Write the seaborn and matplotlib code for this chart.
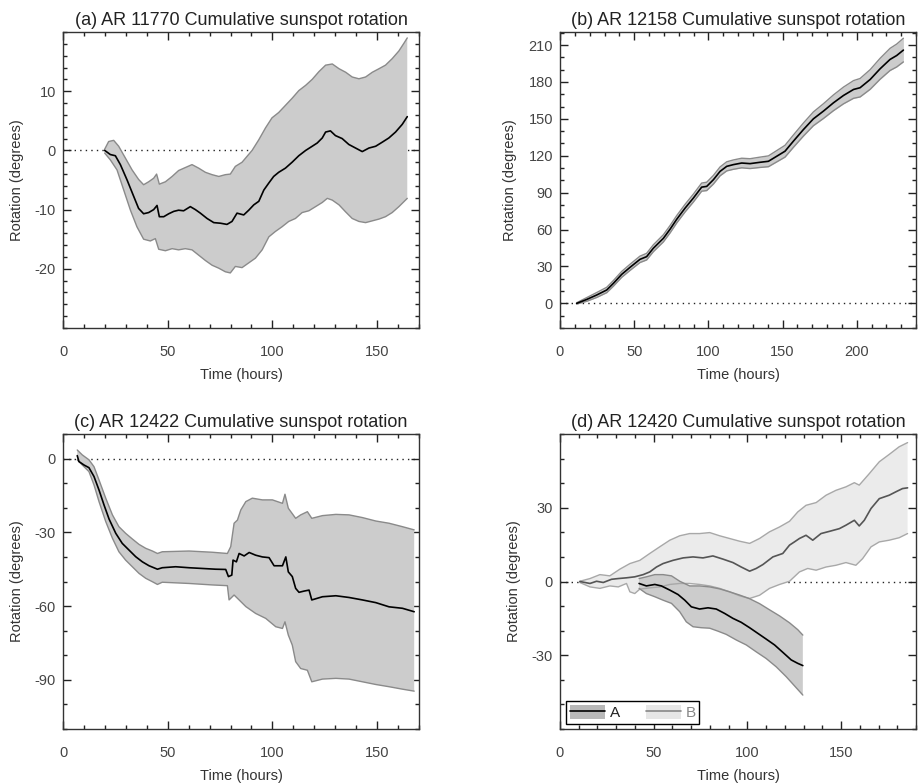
import numpy as np
import pandas as pd
import matplotlib
matplotlib.use("Agg")
import matplotlib.pyplot as plt
from matplotlib.patches import Patch
from matplotlib.lines import Line2D
from matplotlib.ticker import MultipleLocator, FixedLocator
import seaborn as sns

# ---------------- AR 11770 ----------------
a_mean_t = [19.9, 22.6, 25.0, 27.4, 30.6, 33.8, 36.1, 38.5, 40.9, 43.3, 44.9, 46.0, 48.1, 50.5, 52.9,
            55.2, 57.6, 60.8, 63.2, 65.6, 68.8, 72.0, 75.2, 78.3, 80.7, 83.1, 86.3, 88.7, 91.1, 93.5,
            95.9, 98.3, 100.6, 103.0, 106.2, 109.4, 112.6, 115.9, 119.0, 121.4, 123.8, 125.4, 127.7,
            130.1, 133.3, 136.5, 139.7, 142.9, 146.1, 149.3, 152.5, 155.6, 158.8, 162.0, 164.4]
a_mean_v = [0.0, -0.7, -0.9, -2.4, -5.0, -7.8, -9.8, -10.7, -10.5, -10.0, -9.3, -11.2, -11.2, -10.7, -10.3,
            -10.1, -10.2, -9.5, -10.0, -10.6, -11.5, -12.2, -12.3, -12.5, -12.0, -10.6, -10.9, -10.1, -9.2, -8.6,
            -6.7, -5.5, -4.4, -3.7, -3.0, -2.0, -0.9, 0.0, 0.7, 1.25, 2.1, 3.1, 3.3,
            2.5, 2.0, 1.0, 0.4, -0.2, 0.4, 0.7, 1.4, 2.1, 3.1, 4.4, 5.7]
a_hi_t = [19.9, 21.8, 24.2, 26.6, 29.8, 33.0, 36.1, 38.5, 40.9, 43.3, 44.7, 46.0, 48.9, 52.1, 55.2,
          58.4, 61.6, 64.8, 68.0, 71.2, 74.4, 77.5, 79.9, 82.3, 85.5, 87.9, 90.3, 93.5, 96.7, 99.8,
          103.0, 106.2, 109.4, 112.6, 115.9, 119.0, 122.2, 125.4, 128.6, 131.8, 135.0, 138.1, 141.3,
          144.5, 147.7, 150.9, 154.0, 157.2, 160.4, 162.8, 164.4]
a_hi_v = [0.2, 1.5, 1.7, 0.7, -1.3, -3.3, -4.9, -5.8, -5.3, -4.7, -4.0, -5.7, -5.3, -4.4, -3.4,
          -2.9, -2.4, -3.0, -3.7, -4.1, -4.4, -4.1, -4.0, -2.7, -2.0, -1.0, 0.0, 1.8, 3.8, 5.5,
          6.4, 7.6, 8.8, 10.1, 11.0, 12.0, 13.3, 14.4, 14.6, 13.8, 13.2, 12.4, 12.1,
          12.4, 13.2, 13.8, 14.4, 15.5, 16.8, 18.1, 19.0]
a_lo_t = [19.9, 22.6, 25.8, 29.0, 32.2, 35.3, 38.5, 41.7, 44.1, 45.7, 48.9, 52.1, 55.2, 58.4, 61.6,
          64.8, 68.0, 71.2, 74.4, 77.5, 79.9, 82.3, 85.5, 88.7, 91.9, 95.1, 98.3, 101.4, 104.6, 107.8,
          111.0, 114.2, 117.4, 120.6, 123.8, 126.2, 128.6, 131.8, 135.0, 138.1, 141.3, 144.5, 147.7,
          150.9, 154.0, 157.2, 160.4, 164.4]
a_lo_v = [-0.45, -1.6, -3.3, -6.7, -10.1, -12.9, -15.0, -15.3, -14.9, -16.7, -16.95, -16.6, -16.8, -16.6, -16.8,
          -17.7, -18.6, -19.4, -19.9, -20.5, -20.7, -19.6, -19.8, -19.0, -18.2, -16.8, -14.6, -13.7, -12.9, -12.0,
          -11.5, -10.5, -10.2, -9.5, -8.8, -8.1, -8.4, -9.2, -10.4, -11.5, -12.0, -12.2, -11.9,
          -11.6, -11.2, -10.5, -9.5, -8.1]

# ---------------- AR 12158 ----------------
b_t = [11.2, 18.0, 24.7, 31.5, 36.0, 41.6, 47.2, 53.9, 58.4, 62.9, 69.7, 74.2, 78.7, 84.3, 89.9,
       95.5, 98.9, 103.4, 107.9, 112.4, 116.9, 122.5, 128.1, 134.9, 140.5, 146.1, 151.7, 157.3,
       164.1, 170.8, 177.6, 184.3, 191.1, 197.9, 202.3, 209.1, 215.8, 222.5, 227.0, 231.5]
b_mean = [0.0, 3.2, 6.8, 10.9, 16.3, 23.6, 29.3, 35.8, 38.0, 44.8, 52.9, 60.3, 68.4, 77.4, 85.6,
          94.5, 95.1, 100.5, 107.3, 111.4, 112.8, 114.1, 113.6, 114.7, 115.5, 119.6, 123.7, 131.8,
          141.3, 150.0, 156.3, 163.0, 169.0, 173.9, 175.3, 182.0, 190.7, 198.3, 201.5, 205.9]
b_hi = [0.5, 4.7, 8.8, 13.1, 18.6, 26.0, 31.8, 38.4, 40.7, 47.6, 55.8, 63.3, 71.4, 80.5, 88.8,
        97.8, 98.5, 104.0, 110.9, 115.1, 116.6, 118.0, 117.6, 118.9, 119.9, 124.2, 128.5, 136.8,
        146.6, 155.6, 162.3, 169.4, 175.8, 181.1, 182.8, 190.0, 199.2, 207.3, 210.8, 215.5]
b_lo = [-0.5, 1.7, 4.8, 8.7, 14.0, 21.2, 26.8, 33.2, 35.3, 42.0, 50.0, 57.3, 65.4, 74.3, 82.4,
        91.2, 91.7, 97.0, 103.7, 107.7, 109.0, 110.2, 109.6, 110.5, 111.1, 115.0, 118.9, 126.8,
        136.0, 144.4, 150.3, 156.6, 162.2, 166.7, 167.8, 174.0, 182.2, 189.3, 192.2, 196.3]

# ---------------- AR 12422 ----------------
c_mean_t = [6.8, 7.6, 10.0, 12.4, 14.8, 17.2, 19.6, 22.0, 25.2, 28.3, 31.5, 34.7, 37.9, 41.1, 45.1,
            47.4, 53.8, 60.2, 66.6, 72.9, 77.7, 79.0, 80.6, 81.2, 82.8, 84.1, 86.5, 88.9, 92.0, 95.2,
            98.4, 100.8, 104.8, 106.4, 107.6, 109.5, 111.1, 112.7, 115.1, 117.5, 118.8, 123.9, 130.3,
            136.6, 143.0, 149.4, 155.7, 162.1, 167.7]
c_mean_v = [1.2, -1.2, -2.6, -3.7, -7.3, -12.8, -18.9, -24.6, -30.4, -34.5, -37.2, -39.9, -42.0, -43.6, -45.0,
            -44.4, -44.0, -44.4, -44.7, -45.0, -45.1, -48.0, -47.4, -41.3, -42.0, -38.6, -39.6, -38.2, -39.3, -40.0,
            -40.3, -43.6, -43.6, -40.0, -46.1, -48.0, -52.8, -54.4, -53.9, -53.5, -57.5, -56.2, -55.8,
            -56.5, -57.5, -58.6, -60.3, -60.9, -62.3]
c_hi_t = [6.8, 9.2, 12.4, 14.8, 17.2, 20.4, 23.6, 26.7, 29.9, 33.1, 36.3, 39.5, 42.7, 45.1, 47.4,
          60.2, 71.3, 78.5, 80.1, 81.7, 83.3, 84.9, 87.3, 90.4, 95.2, 100.0, 104.8, 106.0, 107.6,
          111.1, 113.5, 116.7, 118.8, 123.9, 130.3, 136.6, 143.0, 149.4, 155.7, 162.1, 167.7]
c_hi_v = [3.5, 1.5, -0.5, -3.3, -8.7, -16.1, -22.9, -27.7, -30.4, -32.7, -34.9, -36.5, -37.6, -38.6, -37.9,
          -37.6, -38.1, -38.6, -35.8, -26.3, -25.0, -20.9, -17.5, -16.1, -16.8, -16.8, -18.2, -14.5, -20.2,
          -24.3, -22.9, -21.6, -24.3, -23.2, -22.7, -22.9, -24.0, -25.4, -26.3, -27.7, -29.0]
c_lo_t = [6.8, 9.2, 12.4, 14.8, 17.2, 20.4, 23.6, 26.7, 29.9, 33.1, 36.3, 39.5, 42.7, 45.1, 47.4,
          60.2, 71.3, 78.5, 79.3, 81.7, 84.1, 87.3, 92.0, 96.8, 101.6, 104.8, 106.0, 107.6, 109.5,
          111.1, 113.5, 116.7, 118.8, 123.9, 130.3, 136.6, 143.0, 149.4, 155.7, 162.1, 167.7]
c_lo_v = [-0.5, -2.6, -5.3, -10.7, -17.5, -25.6, -32.4, -37.9, -41.3, -44.0, -46.7, -48.7, -50.1, -51.2, -50.3,
          -50.8, -51.4, -51.7, -57.5, -55.5, -57.5, -60.2, -63.0, -65.0, -68.4, -69.1, -66.4, -71.8, -75.9,
          -82.6, -85.4, -86.1, -90.8, -89.7, -89.4, -89.7, -90.8, -91.9, -92.8, -93.8, -94.6]

# ---------------- AR 12420, spot B ----------------
dB_mean_t = [10.6, 16.0, 19.5, 23.1, 27.5, 31.1, 35.5, 39.9, 44.4, 47.9, 51.5, 55.0, 60.3, 65.7, 71.0,
             76.3, 81.6, 87.0, 92.3, 96.7, 101.2, 104.7, 108.3, 113.6, 118.9, 122.5, 125.1, 127.8, 131.3,
             134.9, 139.3, 143.8, 149.1, 152.6, 157.1, 159.7, 162.4, 166.0, 170.4, 175.7, 179.3, 182.8, 185.5]
dB_mean_v = [0.0, -0.8, 0.1, -0.4, 0.9, 1.2, 1.5, 1.9, 2.8, 3.9, 5.9, 7.3, 8.6, 9.6, 10.0,
             9.6, 10.4, 9.1, 7.7, 5.9, 4.2, 5.3, 6.9, 10.0, 11.4, 14.8, 16.1, 17.5, 18.8,
             16.8, 19.5, 20.4, 21.5, 22.9, 24.9, 22.6, 24.9, 29.7, 33.7, 35.1, 36.5, 37.8, 38.1]
dB_hi_t = [10.6, 16.0, 21.3, 26.6, 31.9, 37.3, 42.6, 47.9, 53.2, 58.6, 63.9, 69.2, 74.5, 79.9, 85.2,
           90.5, 95.8, 101.2, 106.5, 111.8, 117.2, 122.5, 126.9, 131.3, 136.7, 142.0, 147.3, 152.6,
           157.1, 159.7, 165.1, 170.4, 175.7, 181.0, 185.5]
dB_hi_v = [0.1, 1.2, 2.8, 2.3, 5.0, 7.3, 8.6, 11.4, 14.1, 16.8, 18.6, 19.5, 19.5, 19.9, 18.6,
           17.5, 16.4, 15.5, 17.5, 20.2, 22.2, 24.5, 28.3, 31.0, 32.1, 35.1, 37.1, 38.5,
           40.2, 39.2, 43.9, 48.7, 51.7, 54.8, 56.5]
dB_lo_t = [10.6, 16.0, 21.3, 26.6, 31.1, 35.5, 37.3, 39.9, 42.6, 47.9, 53.2, 58.6, 63.9, 69.2, 74.5,
           79.9, 85.2, 90.5, 95.8, 101.2, 106.5, 111.8, 117.2, 122.5, 127.8, 132.2, 136.7, 142.0,
           147.3, 152.6, 157.9, 161.5, 166.0, 170.4, 175.7, 181.0, 185.5]
dB_lo_v = [-0.4, -2.2, -2.8, -1.8, -2.2, -0.8, -4.2, -4.9, -3.1, -2.6, -2.2, -1.2, -0.8, -0.8, -1.2,
           -1.8, -2.8, -4.2, -5.8, -6.9, -5.6, -2.8, -1.2, 0.1, 3.9, 5.3, 4.6, 5.9,
           6.6, 7.7, 6.6, 9.3, 14.1, 16.1, 16.8, 17.8, 19.5]

# ---------------- AR 12420, spot A ----------------
dA_mean_t = [42.2, 46.1, 50.6, 54.1, 58.6, 63.0, 66.6, 70.1, 74.5, 79.0, 83.4, 87.9, 92.3, 96.7, 101.2,
             105.6, 110.0, 114.5, 118.9, 123.4, 126.9, 129.6]
dA_mean_v = [-0.8, -1.8, -1.2, -1.8, -3.5, -5.3, -7.6, -10.3, -11.2, -10.7, -11.2, -13.0, -15.0, -16.6, -18.8,
             -21.1, -23.4, -25.8, -28.8, -31.9, -33.3, -34.2]
dA_hi_t = [42.2, 46.1, 50.6, 55.0, 59.5, 63.9, 69.2, 74.5, 79.9, 85.2, 90.5, 95.8, 101.2, 106.5, 111.8,
           117.2, 122.5, 126.9, 129.6]
dA_hi_v = [1.2, 1.9, 2.8, 2.8, 2.3, 0.1, -1.8, -1.8, -2.2, -3.0, -4.2, -5.5, -7.0, -9.0, -11.5,
           -14.0, -16.8, -19.6, -21.8]
dA_lo_t = [42.2, 46.1, 50.6, 55.0, 59.5, 63.9, 67.4, 71.0, 75.4, 79.9, 84.3, 88.7, 94.1, 99.4, 104.7,
           110.0, 115.4, 120.7, 125.1, 129.6]
dA_lo_v = [-2.8, -4.9, -6.2, -7.6, -8.9, -12.3, -16.4, -18.4, -18.8, -19.0, -20.2, -21.5, -23.8, -25.8, -28.6,
           -31.3, -34.7, -38.7, -42.4, -46.2]

titles = ["(a) AR 11770 Cumulative sunspot rotation",
          "(b) AR 12158 Cumulative sunspot rotation",
          "(c) AR 12422 Cumulative sunspot rotation",
          "(d) AR 12420 Cumulative sunspot rotation"]
legend_labels = ["A", "B"]

# ---------------- styling ----------------
sns.set_style("ticks")
plt.rcParams["font.family"] = ["Liberation Sans", "DejaVu Sans"]
plt.rcParams["axes.unicode_minus"] = False
plt.rcParams["axes.edgecolor"] = "#333333"
plt.rcParams["axes.linewidth"] = 1.0
plt.rcParams["text.color"] = "#222222"
plt.rcParams["axes.labelcolor"] = "#333333"
plt.rcParams["xtick.color"] = "#222222"
plt.rcParams["ytick.color"] = "#222222"
plt.rcParams["xtick.labelcolor"] = "#444444"
plt.rcParams["ytick.labelcolor"] = "#444444"

FILL_DARK = "#cccccc"
EDGE_DARK = "#8a8a8a"
FILL_LIGHT = "#ebebeb"
EDGE_LIGHT = "#a8a8a8"
MEAN_B = "#555555"

fig = plt.figure(figsize=(9.19, 7.83), dpi=100)
W, H = 919.0, 783.0
boxes = [(63, 32, 419, 328), (560, 32, 916, 328),
         (63, 434, 419, 729), (560, 434, 916, 729)]
axes = [fig.add_axes([l / W, 1 - b / H, (r - l) / W, (b - t) / H]) for (l, t, r, b) in boxes]


def band(ax, t_hi, v_hi, t_lo, v_lo, fill, z=1):
    poly_t = np.concatenate([t_hi, t_lo[::-1]])
    poly_v = np.concatenate([v_hi, v_lo[::-1]])
    ax.fill(poly_t, poly_v, color=fill, lw=0, zorder=z)


def line(ax, t, v, color, lw, z):
    sns.lineplot(x=t, y=v, ax=ax, color=color, lw=lw, estimator=None, sort=False, zorder=z)


def zero_line(ax, xmax):
    ax.plot([0, xmax], [0, 0], ls=(0, (1, 3)), color="#222222", lw=1.0, zorder=0.5)


def style_axes(ax, xlim, ylim, yticks, yminor, title):
    ax.set_xlim(*xlim)
    ax.set_ylim(*ylim)
    ax.xaxis.set_major_locator(MultipleLocator(50))
    ax.xaxis.set_minor_locator(MultipleLocator(10))
    ax.yaxis.set_major_locator(FixedLocator(yticks))
    ax.yaxis.set_minor_locator(MultipleLocator(yminor))
    ax.tick_params(which="both", direction="in", top=True, right=True, width=1.0)
    ax.tick_params(which="major", length=6)
    ax.tick_params(which="minor", length=3)
    ax.tick_params(axis="x", which="major", pad=12, labelsize=10.5)
    ax.tick_params(axis="y", which="major", pad=5, labelsize=10.5)
    ax.set_xlabel("Time (hours)", fontsize=10.5, labelpad=7)
    ax.set_ylabel("Rotation (degrees)", fontsize=10.5, labelpad=8)
    ax.set_title(title, fontsize=13, pad=5, color="#222222")
    for s in ax.spines.values():
        s.set_visible(True)


# (a)
ax = axes[0]
zero_line(ax, 170)
band(ax, np.array(a_hi_t), np.array(a_hi_v), np.array(a_lo_t), np.array(a_lo_v), FILL_DARK)
line(ax, a_hi_t, a_hi_v, EDGE_DARK, 1.0, 2)
line(ax, a_lo_t, a_lo_v, EDGE_DARK, 1.0, 2)
line(ax, a_mean_t, a_mean_v, "black", 1.2, 3)
style_axes(ax, (0, 170), (-30, 20), [-20, -10, 0, 10], 2, titles[0])

# (b)
ax = axes[1]
zero_line(ax, 240)
ax.fill_between(b_t, b_lo, b_hi, color=FILL_DARK, lw=0, zorder=1)
line(ax, b_t, b_hi, EDGE_DARK, 1.0, 2)
line(ax, b_t, b_lo, EDGE_DARK, 1.0, 2)
line(ax, b_t, b_mean, "black", 1.2, 3)
style_axes(ax, (0, 240), (-20, 220.6), list(range(0, 211, 30)), 10, titles[1])

# (c)
ax = axes[2]
zero_line(ax, 170)
band(ax, np.array(c_hi_t), np.array(c_hi_v), np.array(c_lo_t), np.array(c_lo_v), FILL_DARK)
line(ax, c_hi_t, c_hi_v, EDGE_DARK, 1.0, 2)
line(ax, c_lo_t, c_lo_v, EDGE_DARK, 1.0, 2)
line(ax, c_mean_t, c_mean_v, "black", 1.2, 3)
style_axes(ax, (0, 170), (-110, 10), [-90, -60, -30, 0], 10, titles[2])

# (d)
ax = axes[3]
zero_line(ax, 190)
band(ax, np.array(dB_hi_t), np.array(dB_hi_v), np.array(dB_lo_t), np.array(dB_lo_v), FILL_LIGHT, z=1)
band(ax, np.array(dA_hi_t), np.array(dA_hi_v), np.array(dA_lo_t), np.array(dA_lo_v), FILL_DARK, z=1.2)
line(ax, dB_hi_t, dB_hi_v, EDGE_LIGHT, 1.0, 2)
line(ax, dB_lo_t, dB_lo_v, EDGE_LIGHT, 1.0, 2)
line(ax, dA_hi_t, dA_hi_v, EDGE_DARK, 1.0, 2.1)
line(ax, dA_lo_t, dA_lo_v, EDGE_DARK, 1.0, 2.1)
line(ax, dB_mean_t, dB_mean_v, MEAN_B, 1.2, 3)
line(ax, dA_mean_t, dA_mean_v, "black", 1.2, 3.1)
style_axes(ax, (0, 190), (-60, 60), [-30, 0, 30], 10, titles[3])

h_a = (Patch(facecolor="#b8b8b8", edgecolor="none"), Line2D([], [], color="black", lw=1.2))
h_b = (Patch(facecolor="#e6e6e6", edgecolor="none"), Line2D([], [], color="#888888", lw=1.2))
leg = ax.legend([h_a, h_b], legend_labels, ncol=2, loc="lower left",
                bbox_to_anchor=(6 / 356, 5 / 295), borderaxespad=0, fontsize=11,
                handlelength=2.3, handleheight=1.0, handletextpad=0.3, columnspacing=1.7,
                borderpad=0.25, fancybox=False, framealpha=1, edgecolor="black")
leg.get_frame().set_linewidth(1.0)
leg.get_texts()[0].set_color("#222222")
leg.get_texts()[1].set_color("#888888")

fig.savefig("out.png", dpi=100)
